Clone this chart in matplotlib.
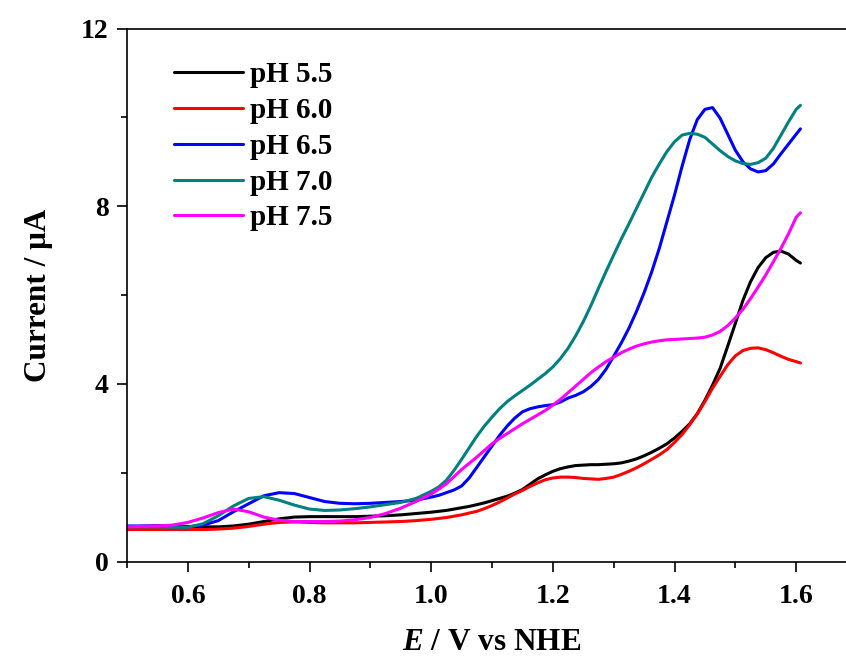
import matplotlib
matplotlib.use("Agg")
import matplotlib.pyplot as plt
from matplotlib.ticker import MultipleLocator

plt.rcParams["font.family"] = ["Liberation Serif", "DejaVu Serif"]
plt.rcParams["font.weight"] = "bold"
plt.rcParams["mathtext.fontset"] = "custom"
plt.rcParams["mathtext.it"] = "Liberation Serif:italic:bold"
plt.rcParams["mathtext.rm"] = "Liberation Serif:bold"

# ── Potential axis (V vs NHE); finer sampling above 1.0 V ────────────────────
potential = [
    0.500, 0.525, 0.550, 0.575, 0.600, 0.625, 0.650, 0.675, 0.700, 0.725,
    0.750, 0.775, 0.800, 0.825, 0.850, 0.875, 0.900, 0.925, 0.950, 0.975,
    1.0000, 1.0125, 1.0250, 1.0375, 1.0500, 1.0625, 1.0750, 1.0875, 1.1000, 1.1125,
    1.1250, 1.1375, 1.1500, 1.1625, 1.1750, 1.1875, 1.2000, 1.2125, 1.2250, 1.2375,
    1.2500, 1.2625, 1.2750, 1.2875, 1.3000, 1.3125, 1.3250, 1.3375, 1.3500, 1.3625,
    1.3750, 1.3875, 1.4000, 1.4125, 1.4250, 1.4375, 1.4500, 1.4625, 1.4750, 1.4875,
    1.5000, 1.5125, 1.5250, 1.5375, 1.5500, 1.5625, 1.5750, 1.5875, 1.6000,
    1.607,
]

# ── Current (uA) at each pH ──────────────────────────────────────────────────
i_ph55 = [
    0.78, 0.79, 0.80, 0.80, 0.79, 0.78, 0.78, 0.80, 0.84, 0.90,
    0.96, 1.00, 1.01, 1.01, 1.01, 1.01, 1.02, 1.03, 1.05, 1.08,
    1.11, 1.13, 1.15, 1.18, 1.21, 1.24, 1.28, 1.32, 1.37, 1.42,
    1.47, 1.54, 1.62, 1.74, 1.86, 1.95, 2.03, 2.09, 2.13, 2.16,
    2.17, 2.18, 2.18, 2.19, 2.20, 2.22, 2.26, 2.31, 2.38, 2.46,
    2.55, 2.65, 2.78, 2.93, 3.10, 3.33, 3.63, 3.97, 4.35, 4.85,
    5.36, 5.88, 6.30, 6.62, 6.84, 6.96, 6.99, 6.92, 6.78,
    6.72,
]
i_ph60 = [
    0.72, 0.72, 0.72, 0.72, 0.72, 0.72, 0.73, 0.75, 0.79, 0.84,
    0.88, 0.89, 0.88, 0.87, 0.87, 0.87, 0.88, 0.89, 0.90, 0.92,
    0.95, 0.97, 0.99, 1.02, 1.05, 1.09, 1.13, 1.19, 1.26, 1.34,
    1.43, 1.52, 1.60, 1.69, 1.77, 1.84, 1.88, 1.90, 1.90, 1.89,
    1.87, 1.86, 1.85, 1.87, 1.90, 1.96, 2.03, 2.11, 2.20, 2.30,
    2.40, 2.52, 2.68, 2.86, 3.08, 3.32, 3.60, 3.90, 4.17, 4.43,
    4.63, 4.75, 4.80, 4.81, 4.77, 4.70, 4.62, 4.55, 4.50,
    4.47,
]
i_ph65 = [
    0.80, 0.80, 0.80, 0.79, 0.78, 0.82, 0.92, 1.12, 1.30, 1.48,
    1.55, 1.53, 1.44, 1.35, 1.31, 1.30, 1.31, 1.33, 1.35, 1.38,
    1.45, 1.49, 1.55, 1.61, 1.70, 1.88, 2.12, 2.36, 2.60, 2.84,
    3.05, 3.23, 3.37, 3.44, 3.48, 3.51, 3.53, 3.59, 3.68, 3.74,
    3.82, 3.94, 4.10, 4.33, 4.62, 4.92, 5.25, 5.63, 6.05, 6.52,
    7.05, 7.65, 8.25, 8.90, 9.50, 9.95, 10.18, 10.22, 9.98, 9.62,
    9.26, 9.00, 8.84, 8.77, 8.80, 8.95, 9.18, 9.40, 9.62,
    9.74,
]
i_ph70 = [
    0.78, 0.78, 0.78, 0.77, 0.77, 0.85, 1.03, 1.25, 1.42, 1.46,
    1.38, 1.27, 1.18, 1.15, 1.16, 1.19, 1.23, 1.28, 1.33, 1.42,
    1.58, 1.68, 1.83, 2.05, 2.30, 2.56, 2.82, 3.05, 3.25, 3.44,
    3.60, 3.73, 3.85, 3.97, 4.10, 4.23, 4.38, 4.57, 4.80, 5.08,
    5.40, 5.76, 6.15, 6.53, 6.90, 7.26, 7.60, 7.95, 8.30, 8.65,
    8.95, 9.23, 9.45, 9.60, 9.64, 9.62, 9.55, 9.40, 9.25, 9.12,
    9.02, 8.96, 8.94, 8.98, 9.08, 9.30, 9.60, 9.90, 10.18,
    10.27,
]
i_ph75 = [
    0.78, 0.79, 0.80, 0.82, 0.88, 0.98, 1.10, 1.18, 1.12, 1.00,
    0.93, 0.90, 0.90, 0.90, 0.91, 0.94, 0.99, 1.08, 1.20, 1.35,
    1.52, 1.63, 1.75, 1.91, 2.07, 2.21, 2.35, 2.50, 2.65, 2.77,
    2.88, 2.99, 3.10, 3.20, 3.30, 3.40, 3.52, 3.65, 3.80, 3.95,
    4.10, 4.25, 4.38, 4.50, 4.60, 4.70, 4.78, 4.85, 4.90, 4.94,
    4.97, 4.99, 5.00, 5.01, 5.02, 5.03, 5.05, 5.10, 5.18, 5.31,
    5.48, 5.68, 5.92, 6.18, 6.45, 6.75, 7.05, 7.38, 7.75,
    7.85,
]

labels = ["pH 5.5", "pH 6.0", "pH 6.5", "pH 7.0", "pH 7.5"]
colors = ["#000000", "#FF0000", "#0000FF", "#008080", "#FF00FF"]
series = [i_ph55, i_ph60, i_ph65, i_ph70, i_ph75]

fig = plt.figure(figsize=(8.46, 6.57), dpi=100)
# right edge runs past the canvas, so the right spine is not shown
ax = fig.add_axes([127 / 846, 95.5 / 657, 730 / 846, 533 / 657])

for cur, col, lab in zip(series, colors, labels):
    ax.plot(potential, cur, color=col, lw=2.2, label=lab,
            solid_capstyle="round", solid_joinstyle="round")

ax.set_xlim(0.5, 1.7)
ax.set_ylim(0, 12)
ax.xaxis.set_minor_locator(MultipleLocator(0.1))
ax.yaxis.set_major_locator(MultipleLocator(4))
ax.yaxis.set_minor_locator(MultipleLocator(2))
ax.set_xticks([0.6, 0.8, 1.0, 1.2, 1.4, 1.6])
ax.set_xticklabels(["0.6", "0.8", "1.0", "1.2", "1.4", "1.6"])

ax.tick_params(which="major", direction="out", length=7, width=1.2,
               labelsize=20)
ax.tick_params(axis="x", which="major", pad=9)
ax.tick_params(axis="y", which="major", pad=6)
ax.tick_params(which="minor", direction="out", length=4, width=1.2)
for sp in ax.spines.values():
    sp.set_linewidth(1.2)

ax.set_xlabel(r"$\mathit{E}$ / V vs NHE", fontsize=22.5, fontweight="bold",
              labelpad=14)
ax.set_ylabel("Current / μA", fontsize=22.5, fontweight="bold", labelpad=20)

ax.legend(loc="upper left", bbox_to_anchor=(0.049, 0.96), frameon=False,
          fontsize=21, handlelength=2.35, handletextpad=0.25,
          labelspacing=0.3, borderaxespad=0)

fig.savefig("out.png", dpi=100)
